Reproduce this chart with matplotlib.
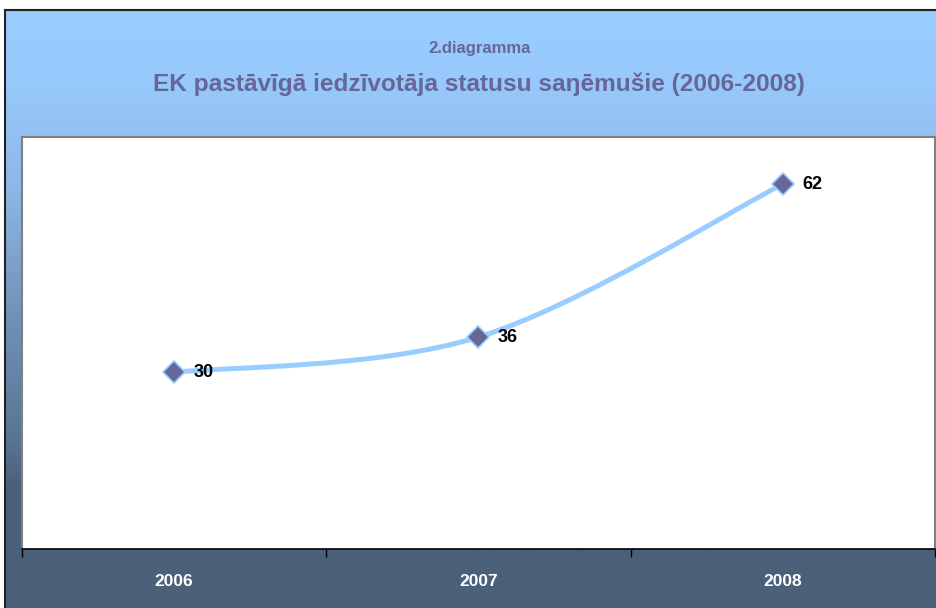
import numpy as np
import matplotlib
matplotlib.use("Agg")
import matplotlib.pyplot as plt
from matplotlib.path import Path
from matplotlib.patches import PathPatch
from matplotlib.colors import LinearSegmentedColormap

years = ["2006", "2007", "2008"]
values = [30, 36, 62]
subtitle = "2.diagramma"
title = "EK pastāvīgā iedzīvotāja statusu saŋēmušie (2006-2008)"

W, H = 937, 608
fig = plt.figure(figsize=(W / 100, H / 100), dpi=100)
fig.patch.set_facecolor("white")

def fx(px):
    return px / W

def fy(py):
    return 1 - py / H

FONT = ["Liberation Sans", "DejaVu Sans"]

# background gradient panel
bg = fig.add_axes([fx(6), 0, 1 - fx(6), fy(10)])
bg.set_axis_off()
cmap = LinearSegmentedColormap.from_list(
    "g", [(0.0, "#99CCFF"), (0.12, "#97C9FC"), (0.3, "#8DB7E6"),
          (0.5, "#7393BA"), (0.72, "#587593"), (0.8, "#4B6079"), (1.0, "#4B6079")])
grad = np.linspace(0, 1, 400).reshape(-1, 1)
bg.imshow(grad, aspect="auto", cmap=cmap, extent=[0, 1, 0, 1], origin="upper")
bg.set_xlim(0, 1)
bg.set_ylim(0, 1)
fig.add_artist(plt.Line2D([fx(5), 1], [fy(10), fy(10)], color="#222222", lw=1.5))
fig.add_artist(plt.Line2D([fx(5), fx(5)], [0, fy(10)], color="#222222", lw=1.5))

# titles
fig.text(fx(480), fy(48), subtitle, ha="center", va="center", fontsize=12,
         fontweight="bold", color="#666699", family=FONT)
fig.text(fx(479), fy(84), title, ha="center", va="center", fontsize=17.6,
         fontweight="bold", color="#666699", family=FONT)

# plot area
L, R, T, B = 22, 935, 137, 549
ax = fig.add_axes([fx(L), fy(B), fx(R - L), fy(T) - fy(B)])
ax.set_facecolor("white")
x = np.arange(len(values))
ax.set_xlim(-0.5, len(values) - 0.5)
ax.set_ylim(0, 70)

# smooth line (Excel-like Bezier through data points)
pts = np.column_stack([x, values]).astype(float)
verts = [tuple(pts[0])]
codes = [Path.MOVETO]
n = len(pts)
for i in range(n - 1):
    p0 = pts[i - 1] if i > 0 else pts[i]
    p1 = pts[i]
    p2 = pts[i + 1]
    p3 = pts[i + 2] if i + 2 < n else pts[i + 1]
    c1 = p1 + (p2 - p0) / 6
    c2 = p2 - (p3 - p1) / 6
    verts += [tuple(c1), tuple(c2), tuple(p2)]
    codes += [Path.CURVE4] * 3
ax.add_patch(PathPatch(Path(verts, codes), facecolor="none", edgecolor="#99CCFF",
                       lw=3.6, capstyle="round", zorder=2))

ax.plot(x, values, linestyle="none", marker="D", markersize=11,
        markerfacecolor="#666699", markeredgecolor="#99CCFF", markeredgewidth=1.2,
        zorder=3)
for xi, v in zip(x, values):
    ax.annotate(str(v), (xi, v), xytext=(14, 0), textcoords="offset points",
                ha="left", va="center", fontsize=13, fontweight="bold",
                color="black", family=FONT, zorder=4)

for s in ["top", "right", "left"]:
    ax.spines[s].set_color("#808080")
    ax.spines[s].set_linewidth(1.5)
ax.spines["bottom"].set_color("black")
ax.spines["bottom"].set_linewidth(1.2)
ax.set_yticks([])
ax.set_xticks(np.arange(-0.5, len(values), 1.0))
ax.set_xticklabels([])
ax.set_xticks(x, minor=True)
ax.set_xticklabels(years, minor=True)
ax.tick_params(axis="x", which="major", length=6, width=1, color="black", direction="out")
ax.tick_params(axis="x", which="minor", length=0, pad=18, labelsize=12.5,
               labelcolor="white")
for lbl in ax.get_xticklabels(minor=True):
    lbl.set_fontweight("bold")
    lbl.set_family(FONT)

fig.savefig("out.png", dpi=100)
